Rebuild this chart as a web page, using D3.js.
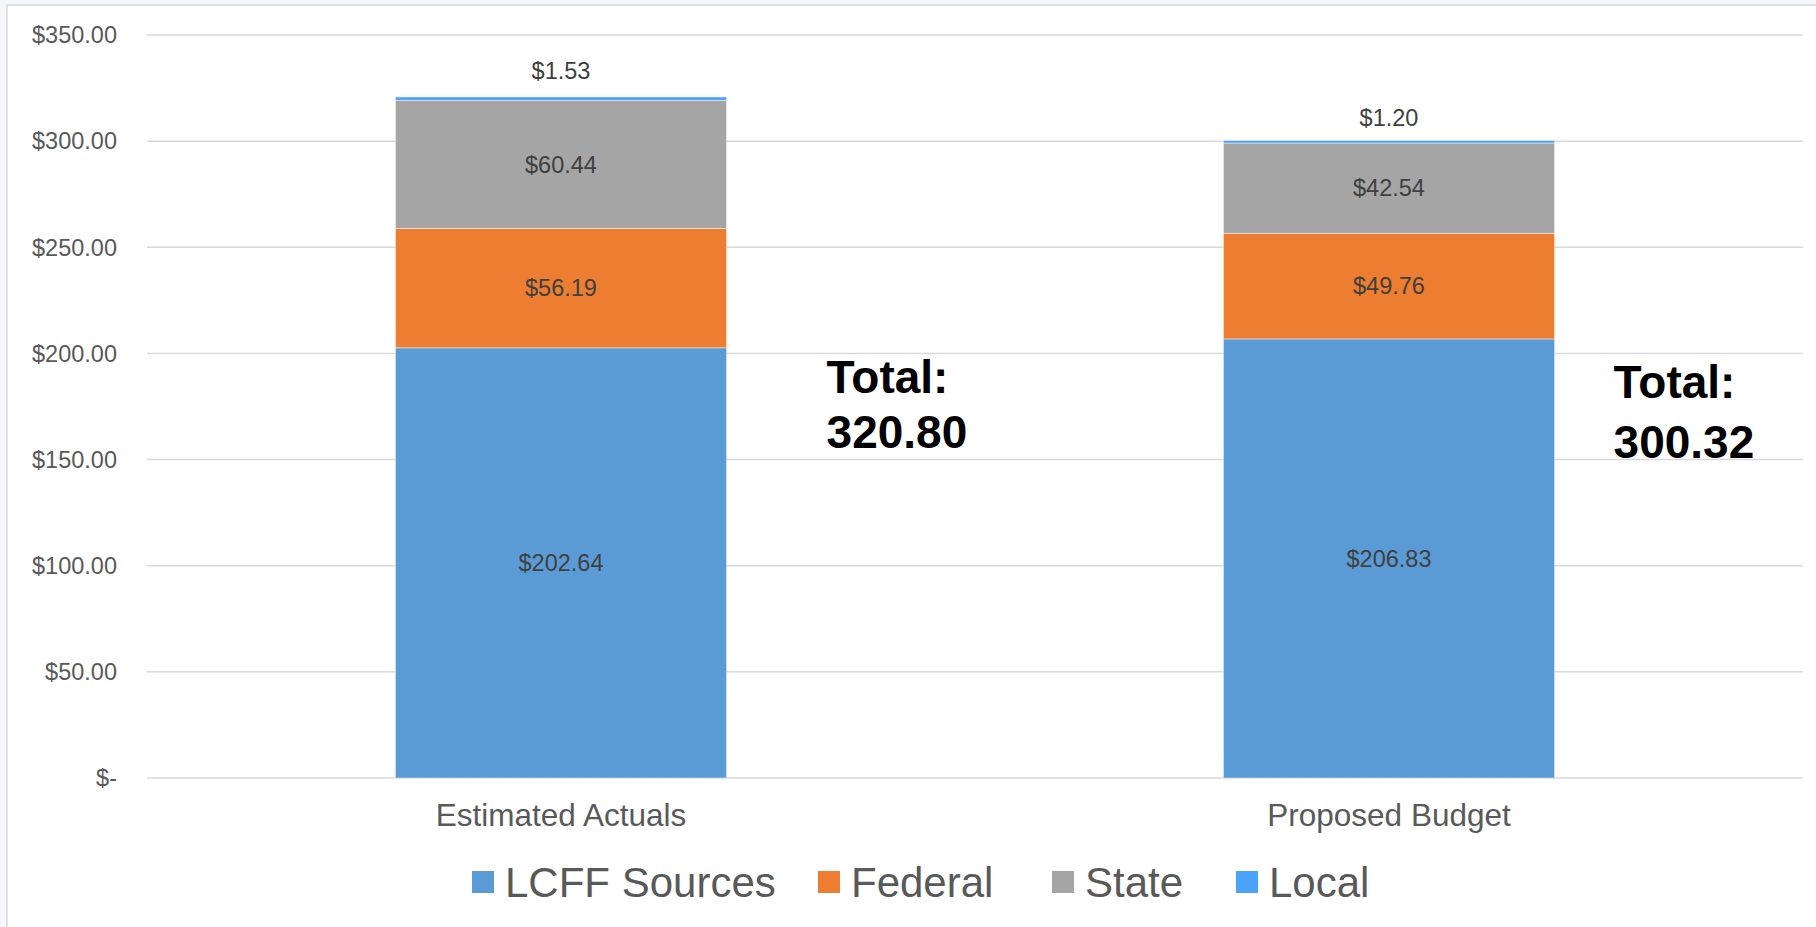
<!DOCTYPE html>
<html lang="en">
<head>
    <meta charset="UTF-8">
    <title>Revenue by Source</title>
    <script src="https://d3js.org/d3.v7.min.js"></script>
    <style>
        html, body {
            margin: 0;
            padding: 0;
            background: #f4f7fc;
            overflow: hidden;
        }

        text {
            font-family: "Liberation Sans", Arial, sans-serif;
        }

        .grid line {
            stroke: #d9d9d9;
            stroke-width: 1.5px;
        }

        .tick-label {
            fill: #595959;
            font-size: 23.5px;
        }

        .data-label {
            fill: #404040;
            font-size: 23.5px;
        }

        .cat-label {
            fill: #595959;
            font-size: 31.5px;
        }

        .legend-label {
            fill: #595959;
            font-size: 42px;
        }

        .total-label {
            fill: #000;
            font-size: 46px;
            font-weight: bold;
        }
    </style>
</head>
<body>

<svg id="chart" width="1816" height="927"></svg>

<script>
// chart data
const categories = ["Estimated Actuals", "Proposed Budget"];
const seriesNames = ["LCFF Sources", "Federal", "State", "Local"];
const lcff = [202.64, 206.83];
const federal = [56.19, 49.76];
const state = [60.44, 42.54];
const local = [1.53, 1.20];
const totalLabels = ["320.80", "300.32"];
const yTicks = [0, 50, 100, 150, 200, 250, 300, 350];

const colors = ["#5b9bd5", "#ed7d31", "#a5a5a5", "#4aa3f8"];

// text box placement for the totals (offset from bar right edge, baseline, line gap)
const totalBoxes = [
    {dx: 100, y: 393, gap: 55},
    {dx: 59, y: 398, gap: 60}
];
// gap between the top of each bar and its Local label
const topLabelGap = [18, 14];

const svg = d3.select("#chart");

// white chart frame
svg.append("rect")
    .attr("x", 7)
    .attr("y", 5)
    .attr("width", 1840)
    .attr("height", 960)
    .attr("fill", "#fff")
    .attr("stroke", "#d9d9d9")
    .attr("stroke-width", 1.5);

const plot = {left: 147, right: 1803, top: 35, bottom: 778};

const x = d3.scaleBand()
    .domain(categories)
    .range([plot.left, plot.right])
    .padding(0);

const barWidth = x.bandwidth() * 0.4;

const y = d3.scaleLinear()
    .domain([0, 350])
    .range([plot.bottom, plot.top]);

const fmt = d3.format(",.2f");
const money = v => v === 0 ? "$-" : "$" + fmt(v);

// gridlines
svg.append("g")
    .attr("class", "grid")
    .selectAll("line")
    .data(yTicks)
    .enter().append("line")
    .attr("x1", plot.left)
    .attr("x2", plot.right)
    .attr("y1", d => y(d))
    .attr("y2", d => y(d));

// y tick labels
svg.append("g")
    .selectAll("text")
    .data(yTicks)
    .enter().append("text")
    .attr("class", "tick-label")
    .attr("x", 117)
    .attr("y", d => y(d))
    .attr("dy", "0.35em")
    .attr("text-anchor", "end")
    .text(money);

// stacked bars
const rows = categories.map((c, i) => ({
    cat: c,
    "LCFF Sources": lcff[i],
    "Federal": federal[i],
    "State": state[i],
    "Local": local[i]
}));

const stacked = d3.stack().keys(seriesNames)(rows);
const barX = d => x(d.data.cat) + (x.bandwidth() - barWidth) / 2;

const layers = svg.append("g")
    .selectAll("g")
    .data(stacked)
    .enter().append("g")
    .attr("fill", (d, i) => colors[i]);

layers.selectAll("rect")
    .data(d => d)
    .enter().append("rect")
    .attr("x", barX)
    .attr("width", barWidth)
    .attr("y", d => y(d[1]))
    .attr("height", d => y(d[0]) - y(d[1]))
    .attr("stroke", "#fff")
    .attr("stroke-opacity", 0.6)
    .attr("stroke-width", 0.75);

// data labels: inner series centred, the tiny Local slice labelled above the bar
stacked.forEach((layer, li) => {
    const isTop = li === stacked.length - 1;
    svg.append("g")
        .selectAll("text")
        .data(layer)
        .enter().append("text")
        .attr("class", "data-label")
        .attr("text-anchor", "middle")
        .attr("x", d => x(d.data.cat) + x.bandwidth() / 2)
        .attr("y", (d, i) => isTop ? y(d[1]) - topLabelGap[i] : (y(d[0]) + y(d[1])) / 2)
        .attr("dy", isTop ? 0 : "0.35em")
        .text(d => money(d[1] - d[0]));
});

// category labels
svg.append("g")
    .selectAll("text")
    .data(categories)
    .enter().append("text")
    .attr("class", "cat-label")
    .attr("x", d => x(d) + x.bandwidth() / 2)
    .attr("y", 826)
    .attr("text-anchor", "middle")
    .text(d => d);

// totals
categories.forEach((c, i) => {
    const bx = x(c) + (x.bandwidth() + barWidth) / 2 + totalBoxes[i].dx;
    const t = svg.append("text")
        .attr("class", "total-label")
        .attr("x", bx)
        .attr("y", totalBoxes[i].y);
    t.append("tspan").attr("x", bx).text("Total:");
    t.append("tspan").attr("x", bx).attr("dy", totalBoxes[i].gap).text(totalLabels[i]);
});

// legend
const legendX = [472, 818, 1052, 1236];
const legend = svg.append("g")
    .selectAll("g")
    .data(seriesNames)
    .enter().append("g")
    .attr("transform", (d, i) => `translate(${legendX[i]},871)`);

legend.append("rect")
    .attr("width", 22)
    .attr("height", 22)
    .attr("fill", (d, i) => colors[i]);

legend.append("text")
    .attr("class", "legend-label")
    .attr("x", 33)
    .attr("y", 26)
    .text(d => d);
</script>

</body>
</html>
